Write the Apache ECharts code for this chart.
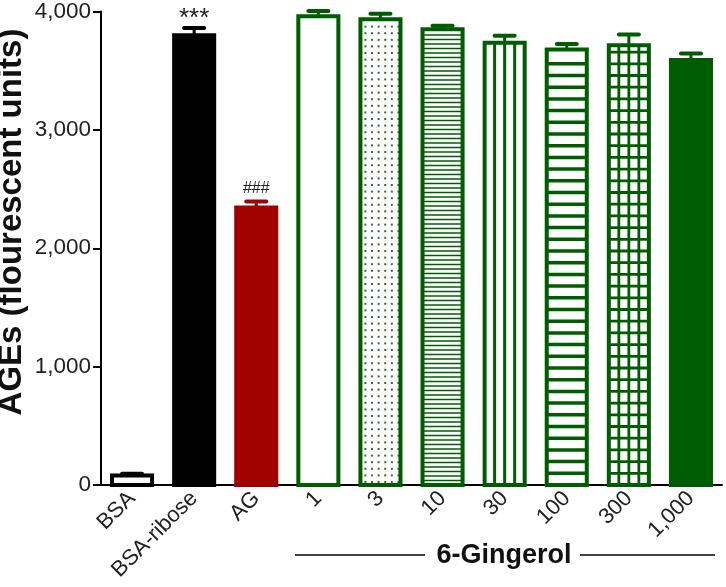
<!DOCTYPE html>
<html>
<head>
<meta charset="utf-8">
<script src="https://cdn.jsdelivr.net/npm/echarts@6/dist/echarts.min.js"></script>
<style>html,body{margin:0;padding:0;background:#fff;}#c{width:726px;height:587px;}</style>
</head>
<body>
<div id="c"></div>
<script>
const categories = ['BSA', 'BSA-ribose', 'AG', '1', '3', '10', '30', '100', '300', '1,000'];
const means = [80, 3800, 2345, 3960, 3935, 3850, 3735, 3680, 3715, 3590];
const errors = [15, 60, 50, 45, 45, 30, 60, 45, 90, 55];
const annotations = ['', '***', '###', '', '', '', '', '', '', ''];
const yTicks = [0, 1000, 2000, 3000, 4000];
const yTitle = 'AGEs (flourescent units)';
const groupLabel = '6-Gingerol';

const GREEN = '#005c00';
const RED = '#a00000';
const barStyles = [
  { stroke: '#000', fill: '#fff', pattern: 'none' },
  { stroke: '#000', fill: '#000', pattern: 'none' },
  { stroke: RED, fill: RED, pattern: 'none' },
  { stroke: GREEN, fill: '#fff', pattern: 'none' },
  { stroke: GREEN, fill: '#fff', pattern: 'dots' },
  { stroke: GREEN, fill: '#fff', pattern: 'hthin' },
  { stroke: GREEN, fill: '#fff', pattern: 'vlines' },
  { stroke: GREEN, fill: '#fff', pattern: 'hthick' },
  { stroke: GREEN, fill: '#fff', pattern: 'grid' },
  { stroke: GREEN, fill: GREEN, pattern: 'none' }
];

const FONT = "'Liberation Sans', Arial, Helvetica, sans-serif";
const chart = echarts.init(document.getElementById('c'));

function renderItem(params, api) {
  const i = api.value(0), v = api.value(1), e = api.value(2);
  const base = api.coord([i, 0]);
  const top = api.coord([i, v]);
  const band = api.size([1, 0])[0];
  const w = band * 0.645;
  const x0 = base[0] - w / 2, y0 = top[1], y1 = base[1], h = y1 - y0;
  const st = barStyles[i];
  const ch = [];
  ch.push({ type: 'rect', shape: { x: x0, y: y0, width: w, height: h }, style: { fill: st.fill } });
  const line = (a, b, c, d, lw, col) => ch.push({ type: 'line', shape: { x1: a, y1: b, x2: c, y2: d }, style: { stroke: col || st.stroke, lineWidth: lw } });
  if (st.pattern === 'dots') {
    for (let yy = y1 - 4; yy > y0 + 3; yy -= 6.6) {
      for (let xx = x0 + 4; xx < x0 + w - 2; xx += 6.6) {
        ch.push({ type: 'rect', shape: { x: xx, y: yy, width: 2, height: 2 }, style: { fill: '#3a6a3a' } });
      }
    }
  } else if (st.pattern === 'hthin') {
    for (let yy = y1 - 4.5; yy > y0 + 2; yy -= 4.5) line(x0, yy, x0 + w, yy, 1.4);
  } else if (st.pattern === 'vlines') {
    for (let k = 1; k < 4; k++) line(x0 + w * k / 4, y0, x0 + w * k / 4, y1, 3);
  } else if (st.pattern === 'hthick') {
    for (let yy = y1 - 11.7; yy > y0 + 4; yy -= 11.7) line(x0, yy, x0 + w, yy, 3.5);
  } else if (st.pattern === 'grid') {
    for (let k = 1; k < 4; k++) line(x0 + w * k / 4, y0, x0 + w * k / 4, y1, 2.8);
    for (let yy = y1 - 11.7; yy > y0 + 4; yy -= 11.7) line(x0, yy, x0 + w, yy, 2.8);
  }
  ch.push({ type: 'rect', shape: { x: x0, y: y0, width: w, height: h }, style: { fill: 'none', stroke: st.stroke, lineWidth: 4 } });
  const errTop = api.coord([i, v + e])[1];
  line(base[0], y0, base[0], errTop, 3);
  ch.push({ type: 'line', shape: { x1: base[0] - 10, y1: errTop, x2: base[0] + 10, y2: errTop }, style: { stroke: st.stroke, lineWidth: 4, lineCap: 'round' } });
  const ann = annotations[i];
  if (ann) {
    const big = ann === '***';
    ch.push({ type: 'text', style: { text: ann, x: base[0], y: errTop - (big ? 9 : 13), align: 'center', verticalAlign: 'middle', font: (big ? '26px ' : '16px ') + FONT, fill: '#222' } });
  }
  return { type: 'group', children: ch };
}

chart.setOption({
  animation: false,
  backgroundColor: '#fff',
  grid: { left: 101, right: 4, top: 10, bottom: 102, containLabel: false },
  xAxis: {
    type: 'category',
    data: categories,
    axisLine: { lineStyle: { color: '#000', width: 2 } },
    axisTick: { alignWithLabel: true, length: 8, lineStyle: { color: '#000', width: 2 } },
    axisLabel: { rotate: 45, fontSize: 22, fontFamily: FONT, color: '#222', margin: 10, interval: 0 }
  },
  yAxis: {
    type: 'value',
    min: yTicks[0], max: yTicks[yTicks.length - 1], interval: yTicks[1] - yTicks[0],
    axisLine: { show: true, lineStyle: { color: '#000', width: 2 } },
    axisTick: { show: true, length: 8, lineStyle: { color: '#000', width: 2 } },
    axisLabel: { fontSize: 22.5, fontFamily: FONT, color: '#222', margin: 10, formatter: v => v.toLocaleString('en-US') },
    splitLine: { show: false }
  },
  series: [{
    type: 'custom',
    renderItem: renderItem,
    encode: { x: 0, y: 1 },
    data: means.map((m, i) => [i, m, errors[i]]),
    clip: false
  }],
  graphic: [
    { type: 'text', x: 12, y: 222, rotation: Math.PI / 2, style: { text: yTitle, align: 'center', verticalAlign: 'middle', font: 'bold 33px ' + FONT, fill: '#111' } },
    { type: 'line', shape: { x1: 295, y1: 555, x2: 425, y2: 555 }, style: { stroke: '#000', lineWidth: 1.5 } },
    { type: 'line', shape: { x1: 580, y1: 555, x2: 715, y2: 555 }, style: { stroke: '#000', lineWidth: 1.5 } },
    { type: 'text', x: 504, y: 556, style: { text: groupLabel, align: 'center', verticalAlign: 'middle', font: 'bold 27px ' + FONT, fill: '#111' } }
  ]
});
</script>
</body>
</html>
